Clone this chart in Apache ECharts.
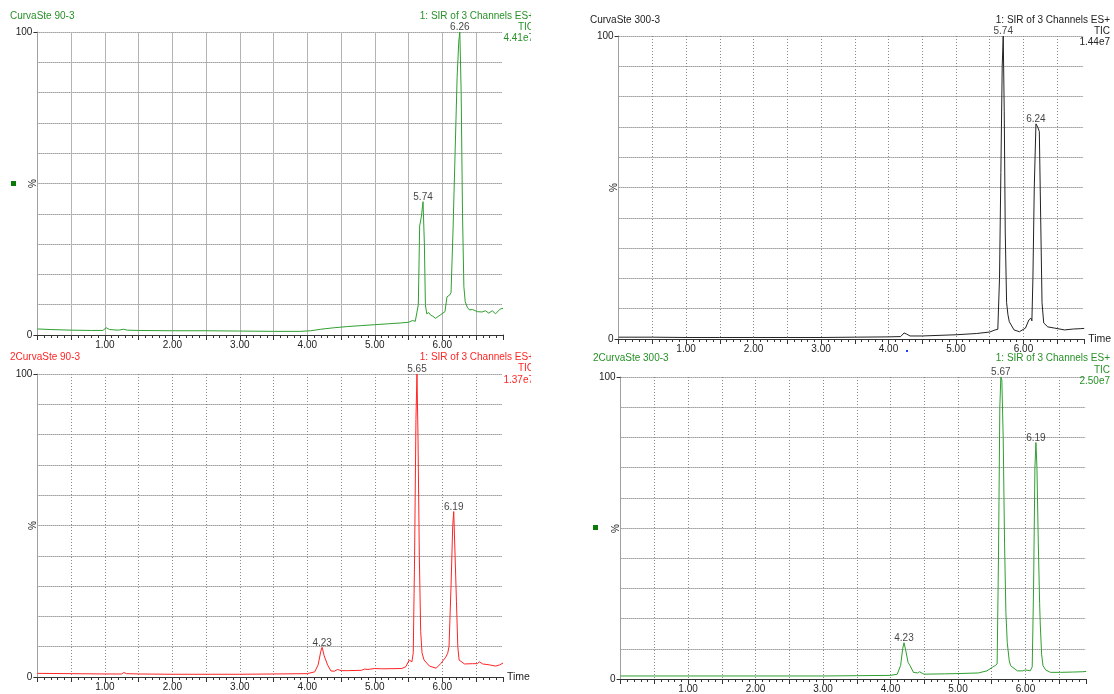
<!DOCTYPE html>
<html><head><meta charset="utf-8">
<script src="https://cdn.jsdelivr.net/npm/echarts@6/dist/echarts.min.js"></script>
<style>html,body{margin:0;padding:0;background:#fff}#c{width:1114px;height:694px}</style>
</head><body><div id="c"></div>
<script>
// ---- data ----
const xTickLabels = ['1.00','2.00','3.00','4.00','5.00','6.00'];
const yTickLabels = ['0','100'];

// CurvaSte 90-3 (TIC 4.41e7)
const t90 = [0,0.2,0.5,0.8,0.97,1.02,1.07,1.2,1.28,1.33,1.5,2.0,2.5,3.0,3.5,3.9,4.05,4.2,4.4,4.6,4.8,5.0,5.2,5.4,5.5,5.56,5.6,5.62,5.645,5.665,5.69,5.715,5.735,5.75,5.77,5.80,5.83,5.86,5.90,5.97,6.04,6.07,6.11,6.13,6.16,6.19,6.22,6.245,6.26,6.28,6.30,6.32,6.34,6.37,6.40,6.45,6.52,6.59,6.64,6.69,6.74,6.79,6.86,6.9];
const v90 = [2.0,1.8,1.6,1.5,1.5,2.4,1.8,1.6,1.9,1.6,1.5,1.4,1.4,1.3,1.2,1.2,1.4,1.9,2.4,2.8,3.1,3.4,3.7,4.0,4.2,4.8,4.5,4.0,10,36,39,44,30,10,7,7.4,6.5,6.2,5.5,6.6,7.7,12.6,13.2,14,35,60,85,97,100,80,40,16,11,9.2,8.3,8.4,7.7,7.6,8.0,7.2,8.0,7.0,8.6,8.8];
const peaks90 = [['5.74',5.715],['6.26',6.26]];

// CurvaSte 300-3 (TIC 1.44e7)
const t300 = [0,0.5,1.0,1.5,2.0,2.5,3.0,3.5,4.0,4.18,4.23,4.27,4.32,4.5,5.0,5.3,5.5,5.58,5.62,5.645,5.665,5.685,5.70,5.715,5.73,5.75,5.77,5.79,5.86,5.94,6.03,6.08,6.11,6.125,6.14,6.16,6.185,6.21,6.235,6.255,6.275,6.30,6.36,6.46,6.61,6.74,6.84,6.9];
const v300 = [0.6,0.6,0.5,0.5,0.5,0.5,0.5,0.6,0.7,0.8,2.0,1.6,1.0,1.0,1.4,1.8,2.3,3.0,3.2,20,55,90,100,75,35,12,8,5.7,3.0,2.4,3.6,6.3,6.9,6.0,20,50,71,70,68.5,40,12,5.3,4.0,3.6,3.0,3.3,3.4,3.5];
const peaks300 = [['5.74',5.70],['6.24',6.185]];

// 2CurvaSte 90-3 (TIC 1.37e7)
const t2_90 = [0,0.5,1.0,1.25,1.28,1.32,1.5,2.0,2.5,3.0,3.5,4.0,4.11,4.16,4.20,4.22,4.25,4.30,4.35,4.40,4.45,4.5,4.6,4.8,4.85,4.9,5.0,5.1,5.4,5.46,5.51,5.55,5.57,5.59,5.61,5.625,5.64,5.66,5.68,5.70,5.73,5.81,5.91,5.98,6.05,6.08,6.10,6.13,6.155,6.17,6.19,6.21,6.23,6.25,6.33,6.45,6.52,6.55,6.6,6.7,6.79,6.85,6.9];
const v2_90 = [1.2,1.1,1.0,1.0,1.5,1.1,1.0,0.9,0.9,0.9,1.0,1.1,1.7,4,8.5,9.8,7,4,2.0,1.9,2.5,2.1,2.1,2.2,2.6,2.5,2.8,2.7,2.8,3.4,5.6,5.0,8,40,85,100,80,40,15,8,5.6,3.6,2.9,4.5,6.5,7.8,10,30,50,54.6,40,25,10,5.6,4.3,4.4,4.4,5.0,4.3,4.0,3.6,4.0,4.6];
const peaks2_90 = [['4.23',4.22],['5.65',5.625],['6.19',6.17]];

// 2CurvaSte 300-3 (TIC 2.50e7)
const t2_300 = [0,0.5,1.0,1.5,2.0,2.5,3.0,3.5,4.0,4.10,4.15,4.18,4.20,4.23,4.26,4.29,4.34,4.40,4.43,4.47,4.50,4.8,5.0,5.3,5.43,5.51,5.55,5.58,5.60,5.62,5.635,5.65,5.67,5.69,5.71,5.73,5.76,5.78,5.88,5.96,6.0,6.07,6.10,6.12,6.14,6.155,6.17,6.19,6.21,6.22,6.24,6.26,6.30,6.37,6.52,6.70,6.84,6.9];
const v2_300 = [1.0,1.0,1.0,1.0,1.0,1.0,1.0,1.1,1.2,1.6,4.5,10,12,9,5.5,4.4,2.2,2.0,2.4,1.9,1.6,1.7,1.8,2.0,2.7,3.9,4.4,5,40,90,100,99,80,45,22,12,6,4.4,2.7,2.7,3.0,2.7,4,30,70,78.3,70,45,25,17.6,8,4.4,3.0,2.2,2.2,2.3,2.4,2.5];
const peaks2_300 = [['4.23',4.20],['5.67',5.635],['6.19',6.155]];

// ---- chart ----
const FONT = '"Liberation Sans", Arial, sans-serif';
const GREEN_T = '#279127', GREEN_L = '#2f9f2f', RED = '#ff2424', BLACK = '#222';
const panels = [
  {left:37.4, top:32, t:t90, v:v90, line:GREEN_L, peaks:peaks90, vDotted:false, time:false},
  {left:618.6, top:36, t:t300, v:v300, line:'#222', peaks:peaks300, vDotted:true, time:true},
  {left:37.4, top:374, t:t2_90, v:v2_90, line:RED, peaks:peaks2_90, vDotted:true, time:true},
  {left:620.6, top:377, t:t2_300, v:v2_300, line:GREEN_L, peaks:peaks2_300, vDotted:true, time:false}
];
const W = 465.6, H = 303;

const grids = [], xAxes = [], yAxes = [], series = [];
const graphic = [];
panels.forEach((p, i) => {
  grids.push({left:p.left, top:p.top, width:W, height:H});
  xAxes.push({
    type:'value', gridIndex:i, min:0, max:6.9, interval:0.5,
    axisLine:{show:true, onZero:false, lineStyle:{color:'#333', width:1}},
    axisTick:{show:true, length:5, lineStyle:{color:'#333'}},
    minorTick:{show:true, splitNumber:5, length:3, lineStyle:{color:'#333'}},
    axisLabel:{fontSize:10, fontFamily:FONT, color:'#222', margin:5,
      formatter: v => { const r = Math.round(v); return (Math.abs(v - r) < 1e-6 && r >= 1 && r <= 6) ? xTickLabels[r-1] : ''; }},
    splitLine:{show:true, lineStyle: p.vDotted ? {color:'#888', type:[1,2], width:1} : {color:'#b4b4b4', width:1}},
    name: p.time ? 'Time' : '', nameLocation:'end', nameGap:4,
    nameTextStyle:{fontSize:10.5, fontFamily:FONT, color:'#222'}
  });
  yAxes.push({
    type:'value', gridIndex:i, min:0, max:100, interval:100,
    axisLine:{show:true, lineStyle:{color:'#a0a0a0'}},
    axisTick:{show:true, length:4, lineStyle:{color:'#333'}},
    axisLabel:{fontSize:10, fontFamily:FONT, color:'#222', margin:5,
      formatter: v => v === 0 ? yTickLabels[0] : (v === 100 ? yTickLabels[1] : '')},
    splitLine:{show:false}
  });
  yAxes.push({
    type:'value', gridIndex:i, min:0, max:100, interval:10, position:'left',
    axisLine:{show:false}, axisTick:{show:false}, axisLabel:{show:false},
    splitLine:{show:true, lineStyle:{color:'#666', type:[1,1], width:1}}
  });
  series.push({
    type:'line', xAxisIndex:i, yAxisIndex:2*i, symbol:'none', animation:false,
    lineStyle:{color:p.line, width:1}, data: p.t.map((t, k) => [t, p.v[k]]), z:3
  });
  series.push({
    type:'scatter', xAxisIndex:i, yAxisIndex:2*i, symbolSize:1, animation:false, silent:true,
    itemStyle:{color:'rgba(0,0,0,0)'},
    data: p.peaks.map(pk => { const k = p.t.indexOf(pk[1]); return [pk[1], p.v[k], pk[0]]; }),
    label:{show:true, position:'top', distance:-1, fontSize:10, fontFamily:FONT, color:'#111',
      formatter: d => d.data[2]}, z:4
  });
  // '%' axis title
  graphic.push({type:'text', x:p.left - 4, y:p.top + H/2, rotation:Math.PI/2, z:50,
    style:{text:'%', fill:'#222', font:'10px ' + FONT, textAlign:'center', textVerticalAlign:'middle'}});
  // hide the split line drawn at the axis max (reference has no right border)
  graphic.push({type:'rect', z:1, shape:{x:p.left + W - 1, y:p.top - 1, width:3, height:H}, style:{fill:'#fff'}});
});

const headers = [
  ['CurvaSte 90-3', 10, 16, GREEN_T, 'left'],
  ['1: SIR of 3 Channels ES+', 534, 16, GREEN_T, 'right'],
  ['TIC', 534, 27, GREEN_T, 'right'],
  ['4.41e7', 534, 38, GREEN_T, 'right'],
  ['CurvaSte 300-3', 590, 20, BLACK, 'left'],
  ['1: SIR of 3 Channels ES+', 1110, 20, BLACK, 'right'],
  ['TIC', 1110, 31, BLACK, 'right'],
  ['1.44e7', 1110, 42, BLACK, 'right'],
  ['2CurvaSte 90-3', 10, 357, RED, 'left'],
  ['1: SIR of 3 Channels ES+', 534, 357, RED, 'right'],
  ['TIC', 534, 368, RED, 'right'],
  ['1.37e7', 534, 380, RED, 'right'],
  ['2CurvaSte 300-3', 593, 358, GREEN_T, 'left'],
  ['1: SIR of 3 Channels ES+', 1110, 358, GREEN_T, 'right'],
  ['TIC', 1110, 370, GREEN_T, 'right'],
  ['2.50e7', 1110, 381, GREEN_T, 'right']
];
headers.forEach(h => graphic.push({
  type:'text', x:h[1], y:h[2], z:50,
  style:{text:h[0], fill:h[3], font:'10px ' + FONT, textAlign:h[4], textVerticalAlign:'middle'}
}));
graphic.push({type:'rect', shape:{x:531, y:0, width:30, height:694}, style:{fill:'#fff'}, z:100});
graphic.push({type:'rect', shape:{x:11, y:181, width:5, height:5}, style:{fill:'#0a7a0a'}, z:60});
graphic.push({type:'rect', shape:{x:593, y:525, width:5, height:5}, style:{fill:'#0a7a0a'}, z:60});
graphic.push({type:'rect', shape:{x:906, y:350, width:2, height:2}, style:{fill:'#2040ff'}, z:60});

const chart = echarts.init(document.getElementById('c'), null, {renderer:'canvas'});
chart.setOption({
  animation:false, backgroundColor:'#fff',
  grid:grids, xAxis:xAxes, yAxis:yAxes, series:series, graphic:graphic
});
</script></body></html>
